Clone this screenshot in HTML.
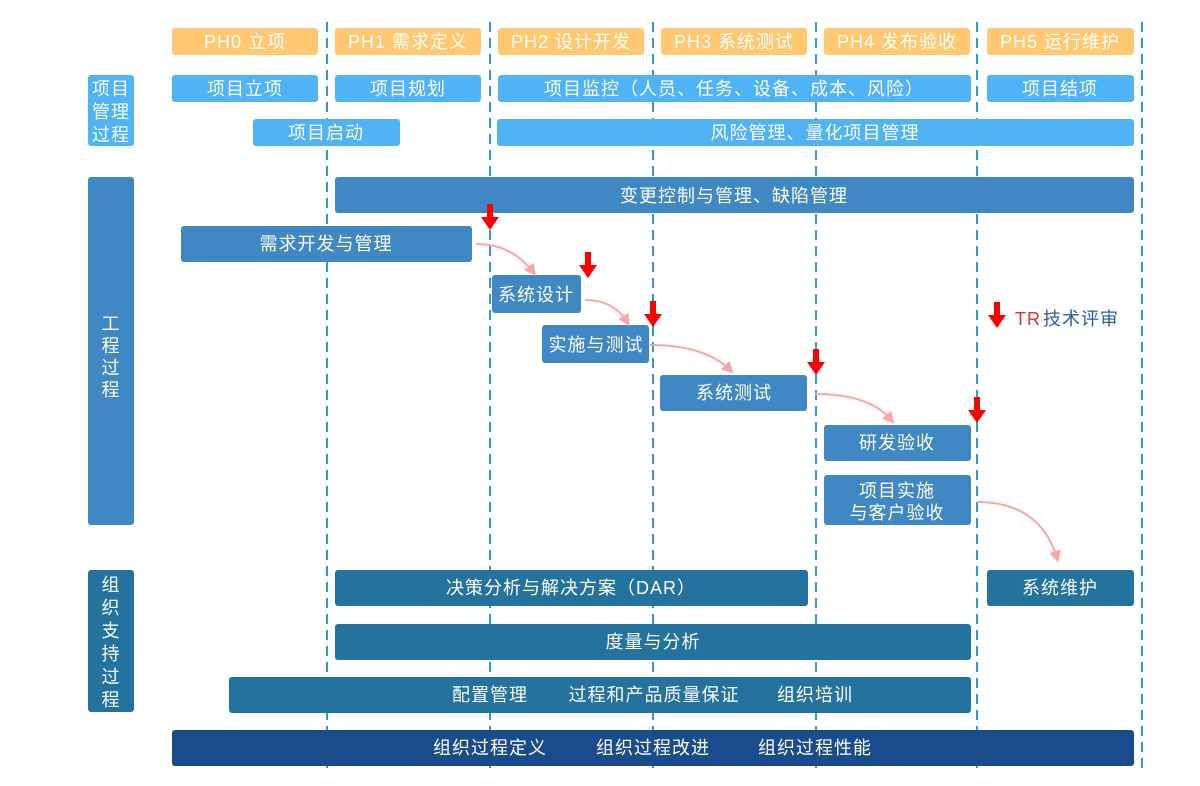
<!DOCTYPE html>
<html><head><meta charset="utf-8"><style>
html,body{margin:0;padding:0;background:#fff;}
svg{display:block;font-family:"Liberation Sans","Noto Sans CJK SC",sans-serif;}
</style></head><body>
<svg width="1200" height="786" viewBox="0 0 1200 786" xmlns="http://www.w3.org/2000/svg">
<defs>
<marker id="pk" markerWidth="12" markerHeight="12" refX="7" refY="6" orient="auto" markerUnits="userSpaceOnUse" viewBox="0 0 12 12"><path d="M0,0 L12,6 L0,12 Z" fill="#FFA3A3"/></marker>
</defs>
<g stroke="#2E9BD6" stroke-width="2" stroke-dasharray="10,6">
<line x1="327" y1="22" x2="327" y2="768"/>
<line x1="490" y1="22" x2="490" y2="768"/>
<line x1="653" y1="22" x2="653" y2="768"/>
<line x1="816" y1="22" x2="816" y2="768"/>
<line x1="977" y1="22" x2="977" y2="768"/>
<line x1="1142" y1="22" x2="1142" y2="768"/>
</g>
<g fill="#FFC871">
<rect x="172" y="28" width="146" height="27" rx="3"/><rect x="335" y="28" width="146" height="27" rx="3"/><rect x="498" y="28" width="146" height="27" rx="3"/><rect x="661" y="28" width="146" height="27" rx="3"/><rect x="824" y="28" width="146" height="27" rx="3"/><rect x="987" y="28" width="147" height="27" rx="3"/>
</g>
<g fill="#fff" font-size="18" text-anchor="middle" letter-spacing="1">
<text x="245" y="48">PH0 立项</text><text x="408" y="48">PH1 需求定义</text><text x="571" y="48">PH2 设计开发</text><text x="734" y="48">PH3 系统测试</text><text x="897" y="48">PH4 发布验收</text><text x="1060" y="48">PH5 运行维护</text>
</g>
<g fill="#4FB3F6">
<rect x="88" y="75" width="46" height="71" rx="3"/>
<rect x="172" y="75" width="146" height="27" rx="3"/><rect x="335" y="75" width="146" height="27" rx="3"/><rect x="498" y="75" width="473" height="27" rx="3"/><rect x="987" y="75" width="147" height="27" rx="3"/>
<rect x="253" y="119" width="147" height="27" rx="3"/><rect x="497" y="119" width="637" height="27" rx="3"/>
</g>
<g fill="#3F88C3">
<rect x="88" y="177" width="46" height="348" rx="3"/>
<rect x="335" y="177" width="799" height="36" rx="3"/>
<rect x="181" y="226" width="291" height="36" rx="3"/>
<rect x="492" y="275" width="89" height="38" rx="3"/>
<rect x="542" y="325" width="107" height="38" rx="3"/>
<rect x="660" y="375" width="147" height="36" rx="3"/>
<rect x="824" y="425" width="147" height="36" rx="3"/>
<rect x="824" y="475" width="147" height="50" rx="3"/>
</g>
<g fill="#23739E">
<rect x="88" y="570" width="46" height="142" rx="3"/>
<rect x="335" y="570" width="473" height="36" rx="3"/>
<rect x="987" y="570" width="147" height="36" rx="3"/>
<rect x="335" y="624" width="636" height="36" rx="3"/>
<rect x="229" y="677" width="742" height="36" rx="3"/>
</g>
<rect x="172" y="730" width="962" height="36" rx="3" fill="#1A4C8C"/>
<g fill="#fff" font-size="18" text-anchor="middle" letter-spacing="1">
<text x="111" y="95">项目</text><text x="111" y="118">管理</text><text x="111" y="141">过程</text>
<text x="245" y="95">项目立项</text><text x="408" y="95">项目规划</text><text x="734" y="95">项目监控（人员、任务、设备、成本、风险）</text><text x="1060" y="95">项目结项</text>
<text x="326" y="139">项目启动</text><text x="815" y="139">风险管理、量化项目管理</text>
<text x="111" y="330">工</text><text x="111" y="352">程</text><text x="111" y="374">过</text><text x="111" y="396">程</text>
<text x="734" y="202">变更控制与管理、缺陷管理</text>
<text x="326" y="250">需求开发与管理</text>
<text x="536" y="301">系统设计</text>
<text x="596" y="351">实施与测试</text>
<text x="734" y="399">系统测试</text>
<text x="897" y="449">研发验收</text>
<text x="897" y="497">项目实施</text><text x="897" y="519">与客户验收</text>
<text x="111" y="591">组</text><text x="111" y="614">织</text><text x="111" y="637">支</text><text x="111" y="660">持</text><text x="111" y="683">过</text><text x="111" y="706">程</text>
<text x="571" y="594">决策分析与解决方案（DAR）</text>
<text x="1060" y="594">系统维护</text>
<text x="653" y="648">度量与分析</text>
<text x="490" y="701">配置管理</text><text x="654" y="701">过程和产品质量保证</text><text x="815" y="701">组织培训</text>
<text x="490" y="754">组织过程定义</text><text x="653" y="754">组织过程改进</text><text x="815" y="754">组织过程性能</text>
</g>
<g fill="none" stroke="#FFA3A3" stroke-width="2" marker-end="url(#pk)">
<path d="M476,244 Q512,244 533,272"/>
<path d="M585,300 Q614,300 627,322"/>
<path d="M650,345 Q705,345 730,370"/>
<path d="M815,394 Q870,394 891,420"/>
<path d="M977,502 Q1040,502 1057,558"/>
</g>
<g fill="#FF0000">
<path d="M487,204h6v13h6l-9,13l-9,-13h6z"/>
<path d="M585,252h6v13h6l-9,13l-9,-13h6z"/>
<path d="M650,301h6v13h6l-9,13l-9,-13h6z"/>
<path d="M813,349h6v13h6l-9,13l-9,-13h6z"/>
<path d="M974,397h6v13h6l-9,13l-9,-13h6z"/>
<path d="M994,302h6v13h6l-9,13l-9,-13h6z"/>
</g>
<text x="1015" y="325" font-size="18" fill="#E03030" letter-spacing="1">TR</text>
<text x="1043" y="325" font-size="18" fill="#2B5C9A" letter-spacing="1">技术评审</text>
</svg>
</body></html>
